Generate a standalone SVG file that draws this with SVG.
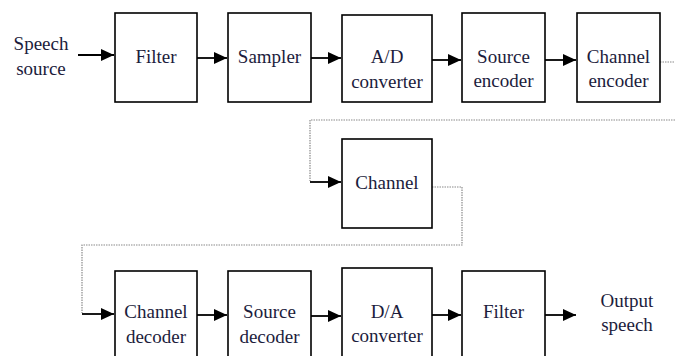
<svg xmlns="http://www.w3.org/2000/svg" width="675" height="356" viewBox="0 0 675 356">
<defs>
<marker id="ah" viewBox="0 0 13 12" refX="13" refY="6" markerWidth="13" markerHeight="12" markerUnits="userSpaceOnUse" orient="auto">
<path d="M0,0 L13,6 L0,12 Z" fill="#000"/>
</marker>
</defs>
<rect width="675" height="356" fill="#fff"/>
<g id="connectors" stroke="#000" stroke-width="1.8" fill="none">
<line x1="78" y1="55" x2="114" y2="55" marker-end="url(#ah)"/>
<line x1="197" y1="58" x2="227" y2="58" marker-end="url(#ah)"/>
<line x1="311" y1="58" x2="341" y2="58" marker-end="url(#ah)"/>
<line x1="432" y1="60" x2="461" y2="60" marker-end="url(#ah)"/>
<line x1="545" y1="60" x2="576" y2="60" marker-end="url(#ah)"/>
<g stroke="#8a8a8a" stroke-width="1.2" stroke-dasharray="1.5 1">
<polyline points="660,62 675,62"/>
<polyline points="675,120 310,120 310,181"/>
<polyline points="432,187 462,187 462,245 82,245 82,313"/>
</g>
<line x1="310" y1="182" x2="341" y2="182" marker-end="url(#ah)"/>
<line x1="82" y1="314" x2="114" y2="314" marker-end="url(#ah)"/>
<line x1="197" y1="315" x2="227" y2="315" marker-end="url(#ah)"/>
<line x1="311" y1="316" x2="341" y2="316" marker-end="url(#ah)"/>
<line x1="432" y1="315" x2="461" y2="315" marker-end="url(#ah)"/>
<line x1="545" y1="315" x2="576" y2="315" marker-end="url(#ah)"/>
</g>
<g font-family="Times New Roman, Liberation Serif, DejaVu Serif, serif" font-size="19" fill="#1c1c3c" text-anchor="middle">
<g id="speech-source"><text x="41" y="50">Speech</text><text x="41" y="75">source</text></g>
<g id="filter1"><rect fill="#fff" stroke="#000" stroke-width="1.6" x="115" y="13" width="82" height="89"/><text x="156" y="63">Filter</text></g>
<g id="sampler"><rect fill="#fff" stroke="#000" stroke-width="1.6" x="228" y="13" width="83" height="89"/><text x="269.5" y="63">Sampler</text></g>
<g id="ad"><rect fill="#fff" stroke="#000" stroke-width="1.6" x="342" y="15" width="90" height="87"/><text x="387" y="63">A/D</text><text x="387" y="88">converter</text></g>
<g id="source-encoder"><rect fill="#fff" stroke="#000" stroke-width="1.6" x="462" y="13" width="83" height="89"/><text x="503.5" y="63">Source</text><text x="503.5" y="87">encoder</text></g>
<g id="channel-encoder"><rect fill="#fff" stroke="#000" stroke-width="1.6" x="577" y="13" width="83" height="89"/><text x="618.5" y="63">Channel</text><text x="618.5" y="87">encoder</text></g>
<g id="channel"><rect fill="#fff" stroke="#000" stroke-width="1.6" x="342" y="139" width="90" height="89"/><text x="387" y="189">Channel</text></g>
<g id="channel-decoder"><rect fill="#fff" stroke="#000" stroke-width="1.6" x="115" y="271" width="82" height="95"/><text x="156" y="318">Channel</text><text x="156" y="343">decoder</text></g>
<g id="source-decoder"><rect fill="#fff" stroke="#000" stroke-width="1.6" x="228" y="271" width="83" height="95"/><text x="269.5" y="318">Source</text><text x="269.5" y="343">decoder</text></g>
<g id="da"><rect fill="#fff" stroke="#000" stroke-width="1.6" x="342" y="268" width="90" height="98"/><text x="387" y="318">D/A</text><text x="387" y="342">converter</text></g>
<g id="filter2"><rect fill="#fff" stroke="#000" stroke-width="1.6" x="462" y="271" width="83" height="95"/><text x="503.5" y="318">Filter</text></g>
<g id="output-speech"><text x="627" y="307">Output</text><text x="627" y="331">speech</text></g>
</g>
</svg>
